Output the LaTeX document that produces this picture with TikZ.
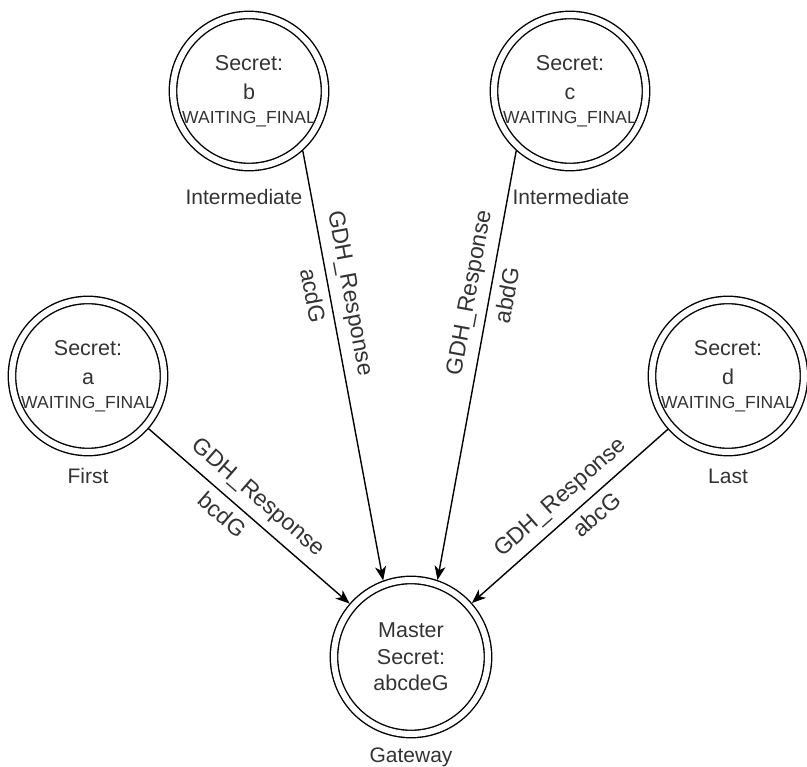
\documentclass[tikz,border=0pt]{standalone}
\usepackage{fontspec}
\setmainfont{Liberation Sans}
\usetikzlibrary{arrows.meta}
\definecolor{txt}{HTML}{333333}
\begin{document}
\begin{tikzpicture}[x=1pt,y=-1pt,
  state/.style={circle, draw=black, line width=1.4pt, double, double distance=6pt,
    minimum size=152pt, inner sep=0pt, outer sep=4.4pt, text=txt, align=center,
    font=\fontsize{21.5}{29}\selectfont},
  master/.style={state, minimum size=154pt, font=\fontsize{21.5}{26.5}\selectfont},
  lbl/.style={text=txt, font=\fontsize{21}{25}\selectfont, inner sep=0pt},
  edge/.style={draw=black, line width=1.4pt, -{Stealth[length=14pt,width=11pt,inset=4pt]}},
  elbl/.style={sloped, text=txt, font=\fontsize{23}{23}\selectfont, text height=16pt, text depth=5pt, inner sep=2pt}
]
\useasboundingbox (0,0) rectangle (807,767);
\newcommand{\wfont}{\fontsize{17.5}{20}\selectfont}
\node[state] (b) at (249,91) {Secret:\\b\\[-5pt]{\wfont WAITING\_FINAL}};
\node[state] (c) at (570,91) {Secret:\\c\\[-5pt]{\wfont WAITING\_FINAL}};
\node[state] (a) at (88,376) {Secret:\\a\\[-5pt]{\wfont WAITING\_FINAL}};
\node[state] (d) at (728,376) {Secret:\\d\\[-5pt]{\wfont WAITING\_FINAL}};
\node[master] (m) at (411,657) {Master\\Secret:\\abcdeG};
\node[lbl] (lb) at (244,197) {Intermediate};
\node[lbl] (lc) at (571,197) {Intermediate};
\node[lbl] (la) at (88,476) {First};
\node[lbl] (ld) at (728,476) {Last};
\node[lbl] (lm) at (411,757) {Gateway};
\draw[edge] (a) -- node[elbl, pos=0.48, above=6pt] {GDH\_Response} node[elbl, pos=0.42, below=6pt] {bcdG} (m);
\draw[edge] (d) -- node[elbl, pos=0.48, above=6pt] {GDH\_Response} node[elbl, pos=0.42, below=6pt] {abcG} (m);
\draw[edge] (b.-48) -- node[elbl, pos=0.34, above=6pt] {GDH\_Response} node[elbl, pos=0.33, below=6pt] {acdG} (m.110);
\draw[edge] (c.-132) -- node[elbl, pos=0.34, above=6pt] {GDH\_Response} node[elbl, pos=0.33, below=6pt] {abdG} (m.71);
\end{tikzpicture}
\end{document}
